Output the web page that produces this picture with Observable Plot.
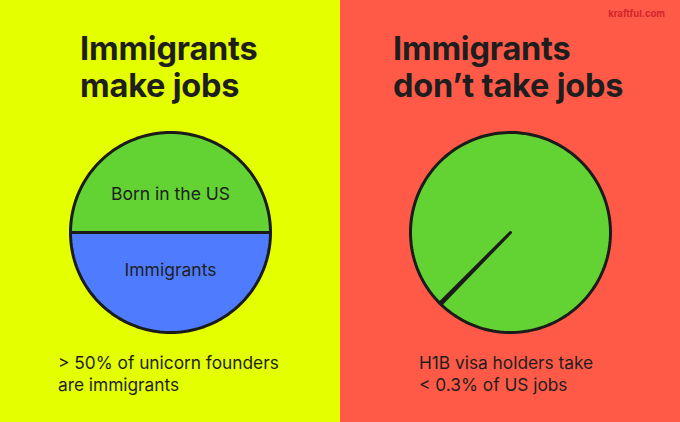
<!DOCTYPE html>
<html>
<head>
<meta charset="utf-8">
<script src="https://cdn.jsdelivr.net/npm/d3@7"></script>
<script src="https://cdn.jsdelivr.net/npm/@observablehq/plot@0.6"></script>
<style>
  html, body { margin: 0; padding: 0; }
  body { width: 680px; height: 422px; overflow: hidden; font-family: Inter, "Noto Sans", sans-serif; color: #1e1e1e; }
  #wrap { display: flex; width: 680px; height: 422px; }
  .panel { position: relative; width: 340px; height: 422px; }
  .panel svg { position: absolute; left: 0; top: 0; }
  .title { position: absolute; top: 30px; font-weight: 700; font-size: 32.5px; line-height: 37px; letter-spacing: -0.2px; white-space: nowrap; z-index: 2; }
  .note { position: absolute; top: 352px; font-size: 17.3px; line-height: 22px; white-space: nowrap; z-index: 2; }
  .brand { position: absolute; top: 8px; right: 15px; font-size: 9.5px; font-weight: 700; color: #d4242c; z-index: 2; }
</style>
</head>
<body>
<div id="wrap">
  <div class="panel" id="left" style="background:#e4ff00"></div>
  <div class="panel" id="right" style="background:#ff5a47"></div>
</div>
<script>
// ---- data ----
const leftTitle = ["Immigrants", "make jobs"];
const rightTitle = ["Immigrants", "don’t take jobs"];
const leftNote = ["> 50% of unicorn founders", "are immigrants"];
const rightNote = ["H1B visa holders take", "< 0.3% of US jobs"];
const brand = "kraftful.com";

const leftLabels = ["Born in the US", "Immigrants"];
const leftValues = [50, 50];
const leftColors = ["#62d332", "#4f7cff"];
const leftStart = -90; // degrees, clockwise from north

const rightLabels = ["H1B visa holders", "Other US jobs"];
const rightValues = [0.3, 99.7];
const rightColors = ["#62d332", "#62d332"];
const rightStart = 224;

// ---- build slices ----
function slices(labels, values, colors, startDeg) {
  const total = d3.sum(values);
  let a = startDeg * Math.PI / 180;
  const pts = [], lab = [];
  labels.forEach((name, i) => {
    const span = values[i] / total * 2 * Math.PI;
    const a0 = a, a1 = a + span;
    const n = Math.max(2, Math.ceil(span / (2 * Math.PI) * 180));
    pts.push({slice: name, color: colors[i], x: 0, y: 0});
    for (let k = 0; k <= n; k++) {
      const t = a0 + (a1 - a0) * k / n;
      pts.push({slice: name, color: colors[i], x: Math.sin(t), y: Math.cos(t)});
    }
    pts.push({slice: name, color: colors[i], x: 0, y: 0});
    const m = (a0 + a1) / 2;
    lab.push({label: name, x: 0.38 * Math.sin(m), y: 0.38 * Math.cos(m)});
    a = a1;
  });
  return {pts, lab};
}

function pie(labels, values, colors, startDeg, showLabels) {
  const {pts, lab} = slices(labels, values, colors, startDeg);
  const marks = [
    Plot.line(pts, {x: "x", y: "y", z: "slice", fill: "color", stroke: "#1b1b1b", strokeWidth: 3, strokeLinejoin: "round", curve: "linear"})
  ];
  if (showLabels) {
    marks.push(Plot.text(lab, {x: "x", y: "y", text: "label", fontSize: 17.5, fill: "#1e1e1e", fontFamily: "Inter"}));
  }
  return Plot.plot({
    width: 340, height: 422,
    marginLeft: 70, marginRight: 70, marginTop: 132, marginBottom: 90,
    x: {domain: [-1, 1], axis: null},
    y: {domain: [-1, 1], axis: null},
    color: {type: "identity"},
    style: {background: "transparent", overflow: "visible"},
    marks
  });
}

function addText(panel, cls, lines, left) {
  const d = document.createElement("div");
  d.className = cls;
  d.style.left = left + "px";
  d.innerHTML = lines.map(s => s.replace(/&/g,"&amp;").replace(/</g,"&lt;").replace(/>/g,"&gt;")).join("<br>");
  panel.appendChild(d);
}

const L = document.getElementById("left");
const R = document.getElementById("right");
L.appendChild(pie(leftLabels, leftValues, leftColors, leftStart, true));
R.appendChild(pie(rightLabels, rightValues, rightColors, rightStart, false));
addText(L, "title", leftTitle, 80);
addText(R, "title", rightTitle, 53);
addText(L, "note", leftNote, 58);
addText(R, "note", rightNote, 79);
const b = document.createElement("div");
b.className = "brand"; b.textContent = brand; R.appendChild(b);
</script>
</body>
</html>
